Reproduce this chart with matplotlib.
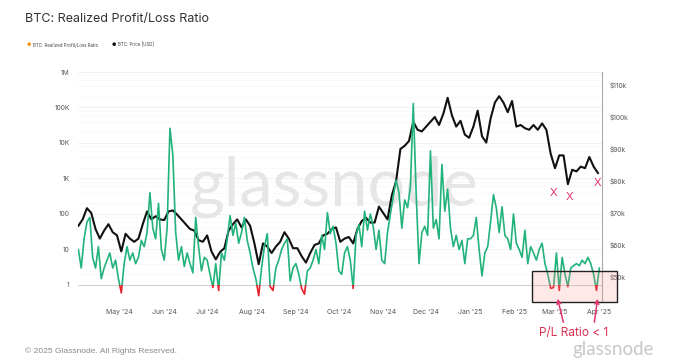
import matplotlib
matplotlib.use("Agg")
import matplotlib.pyplot as plt
import matplotlib.transforms as mtransforms
from matplotlib.patches import Rectangle, FancyArrowPatch
import numpy as np
import pandas as pd

# ---------------- data ----------------
start_date = "2024-04-02"

# BTC Realized Profit/Loss Ratio, one value every 2 days
pl_ratio = [
    10, 3, 20, 60, 80, 6, 3, 12, 1.5, 3, 5, 8, 3, 5, 1.5, 0.6, 4, 12, 5, 8,
    4, 6, 18, 12, 30, 400, 40, 20, 200, 10, 5, 40, 26000, 4600, 30, 5,
    12, 3.3, 8, 4, 2.2, 80, 12, 2.5, 6, 5, 2, 0.85, 4, 0.7, 8, 5, 20, 90,
    25, 55, 15, 30, 80, 18, 8, 3, 1.5, 0.5, 3, 12, 28, 0.9, 0.7, 3, 5, 10, 15,
    20, 1.3, 3, 4, 2, 0.8, 0.55, 2.5, 3, 5, 10, 4, 25, 10, 110, 28, 45, 15,
    2.5, 2, 8, 12, 5, 0.8, 25, 50, 12, 120, 35, 100, 45, 10, 35, 5, 4, 30, 100,
    300, 900, 400, 40, 250, 150, 600, 130000, 380, 4, 30, 45, 25, 6000, 40,
    70, 20, 2500, 120, 500, 40, 12, 25, 10, 18, 4, 20, 20, 25, 80, 10, 1.8,
    8, 12, 60, 350, 150,
    30, 160, 25, 20, 10, 100, 15, 10, 6, 35, 4, 12, 8, 5, 10, 15, 4, 2, 0.8,
    0.85, 8, 0.7, 6, 2, 0.9, 3, 3.5, 4, 3.5, 5, 4, 6, 4, 2, 0.7, 3,
]

# BTC price in thousands of USD, one value every 3 days
price_k = [
    66, 68, 71.5, 70, 65, 62, 64.5, 66.5, 64, 63, 58, 63.5, 62, 61, 62, 66.5,
    70.5, 68, 69, 68, 67.8, 70.5, 70.8, 69.5, 68, 66.5, 65, 64.5, 61.5, 61,
    63, 58, 55.5, 57.8, 59, 64.5, 66.5, 68, 65.5, 68, 66, 60.5, 54, 60.5,
    59.5, 57.5, 59.5, 61, 64, 62, 59, 59, 56.5, 54.5, 57.5, 60, 60.5, 63,
    63.5, 65, 65.5, 61, 62, 62.5, 60.5, 65, 67.5, 68.5, 67, 67, 72, 70, 68,
    75.5, 80, 90, 91, 92.5, 98.5, 96, 95.5, 97, 98.5, 100, 97.5, 101, 106,
    100.5, 97, 98.8, 94.5, 93.5, 97, 102, 94, 92, 99.5, 104.5, 106.5, 104.5,
    101.5, 105, 97, 97.5, 96.5, 96, 97.5, 96, 98, 96, 88.5, 84, 88, 88, 79,
    83.5, 83, 84.5, 84, 87.5, 84.5, 82.5,
]

left_ticks = [1, 10, 100, 1e3, 1e4, 1e5, 1e6]
left_labels = ["1", "10", "100", "1K", "10K", "100K", "1M"]
right_ticks = [50, 60, 70, 80, 90, 100, 110]
right_labels = ["$50k", "$60k", "$70k", "$80k", "$90k", "$100k", "$110k"]
month_ticks = ["2024-05-01", "2024-06-01", "2024-07-01", "2024-08-01",
               "2024-09-01", "2024-10-01", "2024-11-01", "2024-12-01",
               "2025-01-01", "2025-02-01", "2025-03-01", "2025-04-01"]
month_labels = ["May '24", "Jun '24", "Jul '24", "Aug '24", "Sep '24",
                "Oct '24", "Nov '24", "Dec '24", "Jan '25", "Feb '25",
                "Mar '25", "Apr '25"]

pl_dates = pd.date_range(start_date, periods=len(pl_ratio), freq="2D")
price_dates = pd.date_range(start_date, periods=len(price_k), freq="3D")

# ---------------- style ----------------
GREEN = "#22b27c"
RED = "#e3222b"
PINK = "#e2336c"
TXT = "#555555"
plt.rcParams["font.family"] = ["Inter", "DejaVu Sans"]

W, H = 690, 360
fig = plt.figure(figsize=(W / 100, H / 100), dpi=100)
fig.patch.set_facecolor("white")


def fx(px):
    return px / W


def fy(py):
    return 1 - py / H


L, R, T, B = 78, 601.5, 72, 301
ax = fig.add_axes([fx(L), fy(B), fx(R) - fx(L), fy(T) - fy(B)])
ax2 = ax.twinx()
ax.set_zorder(2)
ax2.set_zorder(1)
ax.patch.set_visible(False)
ax2.patch.set_visible(True)
ax2.patch.set_facecolor("white")

# left log axis
YLO, YHI = 0.354, 1e6
ax.set_yscale("log")
ax.set_ylim(YLO, YHI)
xmin = pd.Timestamp("2024-04-01 18:00")
xmax = pd.Timestamp("2025-04-02 12:00")
ax.set_xlim(xmin, xmax)

blend = mtransforms.blended_transform_factory(ax.transAxes, ax.transData)
clip_up = Rectangle((0, 1), 1, 1e9, transform=blend)
clip_dn = Rectangle((0, 1e-4), 1, 1 - 1e-4, transform=blend)

lg, = ax.plot(pl_dates, pl_ratio, color=GREEN, lw=1.2, zorder=3)
lg.set_clip_path(clip_up)
lr, = ax.plot(pl_dates, pl_ratio, color=RED, lw=1.2, zorder=3)
lr.set_clip_path(clip_dn)

ax.set_yticks(left_ticks)
ax.set_yticklabels(left_labels)
ax.yaxis.set_minor_locator(matplotlib.ticker.NullLocator())
ax.tick_params(axis="y", which="both", length=0, labelsize=4.8,
               labelcolor=TXT, pad=6)
ax.set_xticks(pd.to_datetime(month_ticks))
ax.set_xticklabels(month_labels)
ax.tick_params(axis="x", length=0, labelsize=5, labelcolor=TXT, pad=6)
for s in ax.spines.values():
    s.set_visible(False)

# grid lines (drawn on the lower axes so they stay beneath the price line)
span = np.log10(YHI) - np.log10(YLO)
major_fr = [(np.log10(v) - np.log10(YLO)) / span for v in left_ticks]
minor_fr = [(np.log10(m * v) - np.log10(YLO)) / span
            for v in left_ticks[:-1] for m in (2, 4, 6, 8)]
ax2.hlines(major_fr, 0, 1, transform=ax2.transAxes, color="#eeeeee", lw=0.6, zorder=0.2)
ax2.hlines(minor_fr, 0, 1, transform=ax2.transAxes, color="#f6f6f6", lw=0.5, zorder=0.2)
ax2.hlines([major_fr[0]], 0, 1, transform=ax2.transAxes, color="#d0d0d0", lw=0.8, zorder=0.3)

# right price axis
ax2.plot(price_dates, price_k, color="#111111", lw=1.5, zorder=2)
ax2.set_ylim(42.5, 114.06)
ax2.set_yticks(right_ticks)
ax2.set_yticklabels(right_labels)
ax2.tick_params(axis="y", length=0, labelsize=4.8, labelcolor=TXT, pad=6)
for k, s in ax2.spines.items():
    s.set_visible(k == "right")
ax2.spines["right"].set_color("#aaaaaa")
ax2.spines["right"].set_linewidth(0.8)

# watermark
ax2.text(0.49, 0.50, "glassnode", transform=ax2.transAxes, ha="center",
         va="center", fontsize=48, color="#e6e6e6",
         family=["Lato", "DejaVu Sans"], zorder=0.5)

# title / legend / footer
fig.text(fx(25), fy(19), "BTC: Realized Profit/Loss Ratio", fontsize=9,
         color="#333333", va="center", ha="left")
fig.text(fx(29), fy(45), "\u25cf", fontsize=3.5, color="#f7931a", va="center", ha="center")
fig.text(fx(33), fy(45), "BTC: Realized Profit/Loss Ratio", fontsize=3.2,
         color="#444444", va="center", ha="left")
fig.text(fx(114), fy(45), "\u25cf", fontsize=3.5, color="#111111", va="center", ha="center")
fig.text(fx(118), fy(45), "BTC: Price [USD]", fontsize=3.2, color="#444444",
         va="center", ha="left")
fig.text(fx(25), fy(351), "\u00a9 2025 Glassnode. All Rights Reserved.",
         fontsize=6.1, color="#8a8a8a", va="center", ha="left",
         family=["Liberation Sans", "DejaVu Sans"])
fig.text(fx(613), fy(349), "glassnode", fontsize=13.5, color="#c8c8c8",
         va="center", ha="center", family=["Lato", "DejaVu Sans"])

# annotation box and markers
box = Rectangle((fx(532), fy(302)), fx(617) - fx(532), fy(271) - fy(302),
                transform=fig.transFigure, facecolor=(1, 0.55, 0.55, 0.2),
                edgecolor="#222222", lw=1.0, zorder=5)
fig.add_artist(box)
for (xp, yp) in [(553, 193), (570, 197), (598, 183)]:
    fig.text(fx(xp), fy(yp), "X", fontsize=8, color=PINK, ha="center",
             va="center", zorder=6)
for (x0, y0, x1, y1) in [(564, 325, 557, 296), (594, 325, 598, 296)]:
    arr = FancyArrowPatch((fx(x0), fy(y0)), (fx(x1), fy(y1)),
                          transform=fig.transFigure, arrowstyle="->",
                          mutation_scale=7, color=PINK, lw=1.1, zorder=6)
    fig.add_artist(arr)
fig.text(fx(574), fy(333), "P/L Ratio < 1", fontsize=8.5, color="#d93050",
         ha="center", va="center", zorder=6)

fig.savefig("out.png", dpi=100, facecolor="white")
